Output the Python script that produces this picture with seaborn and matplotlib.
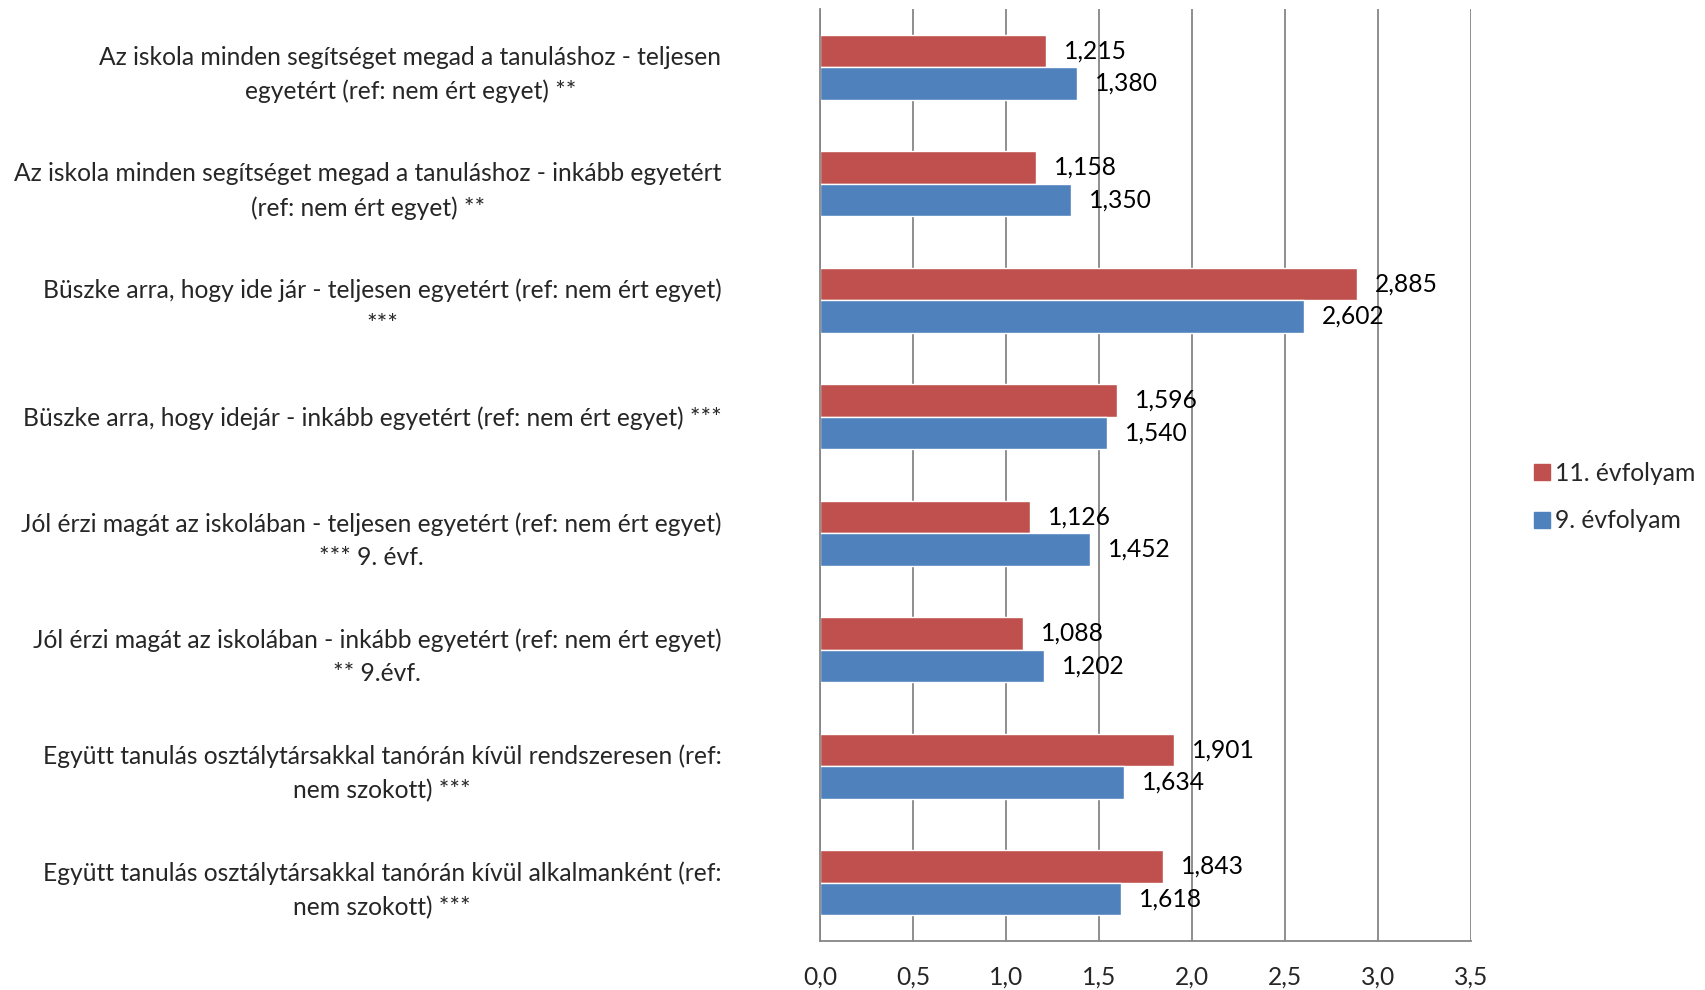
import matplotlib
matplotlib.use('Agg')
import matplotlib.pyplot as plt
import pandas as pd
import seaborn as sns
from matplotlib.lines import Line2D

categories = [
    'Az iskola minden segítséget megad a tanuláshoz - teljesen\negyetért (ref: nem ért egyet) **',
    'Az iskola minden segítséget megad a tanuláshoz - inkább egyetért\n(ref: nem ért egyet) **',
    'Büszke arra, hogy ide jár - teljesen egyetért (ref: nem ért egyet)\n***',
    'Büszke arra, hogy idejár - inkább egyetért (ref: nem ért egyet) ***',
    'Jól érzi magát az iskolában - teljesen egyetért (ref: nem ért egyet)\n*** 9. évf.',
    'Jól érzi magát az iskolában - inkább egyetért (ref: nem ért egyet)\n** 9.évf.',
    'Együtt tanulás osztálytársakkal tanórán kívül rendszeresen (ref:\nnem szokott) ***',
    'Együtt tanulás osztálytársakkal tanórán kívül alkalmanként (ref:\nnem szokott) ***',
]
series_names = ['11. évfolyam', '9. évfolyam']
grade11 = [1.215, 1.158, 2.885, 1.596, 1.126, 1.088, 1.901, 1.843]
grade9 = [1.380, 1.350, 2.602, 1.540, 1.452, 1.202, 1.634, 1.618]
xticks = [0.0, 0.5, 1.0, 1.5, 2.0, 2.5, 3.0, 3.5]

colors = {'11. évfolyam': '#C0504D', '9. évfolyam': '#4F81BD'}
fs = 17.7

df = pd.DataFrame({
    'cat': categories * 2,
    'series': [series_names[0]] * len(categories) + [series_names[1]] * len(categories),
    'value': grade11 + grade9,
})

sns.set_style('white')
plt.rcParams['font.family'] = ['Lato', 'DejaVu Sans']

fig = plt.figure(figsize=(17.05, 9.9), dpi=100)
ax = fig.add_axes([0.481, 0.0495, 0.382, 0.9415])

sns.barplot(data=df, y='cat', x='value', hue='series', order=categories,
            hue_order=series_names, palette=colors, orient='h', width=0.56,
            errorbar=None, legend=False, ax=ax, saturation=1)

for cont in ax.containers:
    labels = [('%.3f' % b.get_width()).replace('.', ',') for b in cont]
    ax.bar_label(cont, labels=labels, padding=13, fontsize=fs, color='black')

ax.set_xlim(0, 3.5)
ax.set_xticks(xticks)
ax.set_xticklabels([('%.1f' % t).replace('.', ',') for t in xticks], fontsize=fs)
ax.set_xlabel('')
ax.set_ylabel('')
ax.xaxis.grid(True, color='#868686', linewidth=1.3)
ax.set_axisbelow(True)
for s in ['top', 'right']:
    ax.spines[s].set_visible(False)
for s in ['left', 'bottom']:
    ax.spines[s].set_color('#868686')
    ax.spines[s].set_linewidth(1.3)
ax.tick_params(axis='x', length=8, color='#868686', width=1.3, pad=10)
ax.tick_params(axis='y', length=0, pad=71)
for lbl in ax.get_yticklabels():
    lbl.set_fontsize(fs)
    lbl.set_multialignment('center')
    lbl.set_linespacing(1.55)

handles = [Line2D([], [], marker='s', linestyle='', markersize=12,
                  color=colors[n]) for n in series_names]
fig.legend(handles, series_names, loc='center left', bbox_to_anchor=(0.884, 0.498),
           frameon=False, fontsize=fs, handletextpad=0.05, labelspacing=1.0,
           handlelength=1.0)

plt.savefig('out.png', dpi=100)
